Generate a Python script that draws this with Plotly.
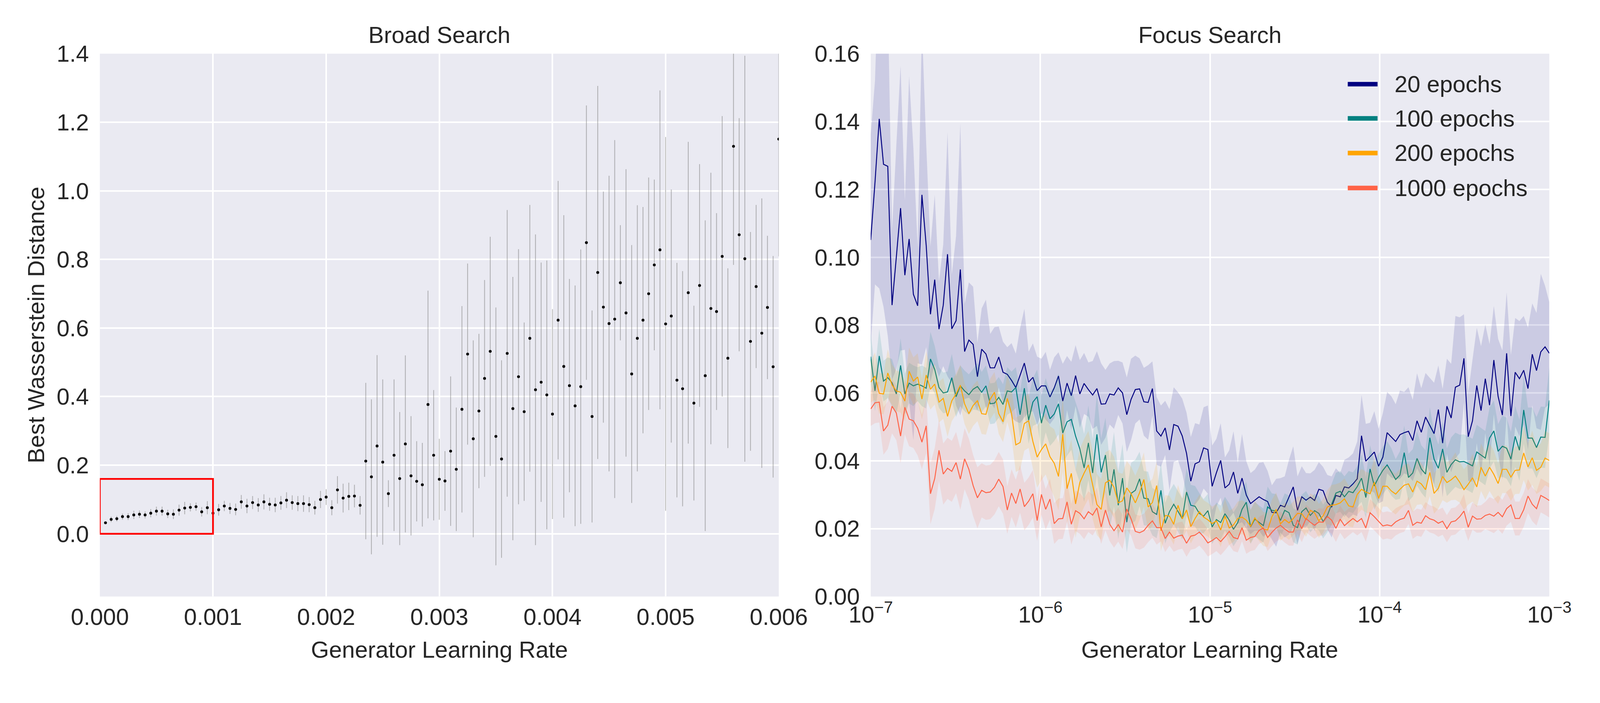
import numpy as np
import plotly.graph_objects as go

# ---- Broad Search (left): mean best distance and spread per learning rate ----
broad_lr = np.arange(1, 121) * 0.00005
broad_mean = [
    0.032, 0.042, 0.044, 0.050, 0.050, 0.055, 0.057, 0.055, 0.060, 0.066,
    0.066, 0.058, 0.057, 0.069, 0.075, 0.077, 0.079, 0.064, 0.076, 0.060,
    0.070, 0.081, 0.074, 0.071, 0.093, 0.081, 0.091, 0.084, 0.093, 0.086,
    0.084, 0.090, 0.098, 0.091, 0.088, 0.088, 0.085, 0.076, 0.100, 0.107,
    0.076, 0.128, 0.104, 0.109, 0.110, 0.083, 0.212, 0.166, 0.256, 0.209,
    0.117, 0.229, 0.161, 0.262, 0.169, 0.153, 0.143, 0.377, 0.229, 0.159,
    0.154, 0.241, 0.188, 0.363, 0.524, 0.277, 0.358, 0.453, 0.532, 0.284,
    0.218, 0.526, 0.365, 0.458, 0.356, 0.570, 0.420, 0.442, 0.405, 0.349,
    0.623, 0.488, 0.432, 0.373, 0.429, 0.849, 0.342, 0.762, 0.661, 0.613,
    0.626, 0.732, 0.644, 0.466, 0.570, 0.623, 0.700, 0.784, 0.828, 0.612,
    0.635, 0.448, 0.423, 0.703, 0.381, 0.724, 0.461, 0.657, 0.648, 0.809,
    0.512, 1.130, 0.872, 0.802, 0.561, 0.721, 0.585, 0.660, 0.487, 1.151,
]
broad_std = [
    0.004, 0.008, 0.008, 0.009, 0.010, 0.012, 0.011, 0.010, 0.012, 0.013,
    0.013, 0.012, 0.014, 0.016, 0.018, 0.012, 0.012, 0.014, 0.019, 0.016,
    0.017, 0.015, 0.016, 0.017, 0.020, 0.021, 0.019, 0.020, 0.022, 0.019,
    0.021, 0.020, 0.023, 0.021, 0.022, 0.024, 0.022, 0.020, 0.025, 0.023,
    0.022, 0.040, 0.042, 0.040, 0.033, 0.027, 0.228, 0.226, 0.265, 0.241,
    0.039, 0.221, 0.194, 0.258, 0.174, 0.117, 0.122, 0.332, 0.190, 0.118,
    0.087, 0.218, 0.180, 0.301, 0.264, 0.287, 0.225, 0.287, 0.334, 0.376,
    0.288, 0.418, 0.384, 0.372, 0.260, 0.389, 0.453, 0.349, 0.392, 0.306,
    0.406, 0.441, 0.311, 0.351, 0.400, 0.400, 0.309, 0.544, 0.337, 0.431,
    0.522, 0.168, 0.419, 0.376, 0.388, 0.330, 0.339, 0.249, 0.465, 0.545,
    0.369, 0.342, 0.343, 0.440, 0.284, 0.354, 0.453, 0.396, 0.287, 0.409,
    0.262, 0.346, 0.340, 0.592, 0.319, 0.238, 0.393, 0.209, 0.323, 0.342,
]

# ---- Focus Search (right): 160 log-spaced learning rates ----
focus_lr = np.logspace(-7, -3, 160)
epochs = ["20 epochs", "100 epochs", "200 epochs", "1000 epochs"]
colors = ["#000080", "#008080", "#FFA500", "#FF6347"]
band_colors = ["rgba(0,0,128,0.13)", "rgba(0,128,128,0.13)",
               "rgba(255,165,0,0.13)", "rgba(255,99,71,0.13)"]

mean_20 = [
    0.1051, 0.1220, 0.1408, 0.1274, 0.1268, 0.0859, 0.1000, 0.1145, 0.0947, 0.1054,
    0.0891, 0.0857, 0.1184, 0.1035, 0.0832, 0.0934, 0.0788, 0.0859, 0.1009, 0.0789,
    0.0813, 0.0964, 0.0722, 0.0756, 0.0743, 0.0648, 0.0729, 0.0715, 0.0674, 0.0674,
    0.0706, 0.0661, 0.0655, 0.0637, 0.0616, 0.0651, 0.0688, 0.0632, 0.0646, 0.0607,
    0.0621, 0.0621, 0.0588, 0.0615, 0.0650, 0.0576, 0.0629, 0.0592, 0.0651, 0.0597,
    0.0628, 0.0610, 0.0594, 0.0613, 0.0567, 0.0568, 0.0597, 0.0594, 0.0615, 0.0600,
    0.0536, 0.0581, 0.0610, 0.0612, 0.0574, 0.0572, 0.0613, 0.0488, 0.0473, 0.0497,
    0.0432, 0.0507, 0.0502, 0.0473, 0.0422, 0.0340, 0.0391, 0.0397, 0.0438, 0.0433,
    0.0325, 0.0365, 0.0401, 0.0320, 0.0331, 0.0367, 0.0304, 0.0349, 0.0299, 0.0274,
    0.0284, 0.0294, 0.0286, 0.0280, 0.0248, 0.0247, 0.0269, 0.0264, 0.0293, 0.0323,
    0.0254, 0.0294, 0.0284, 0.0293, 0.0283, 0.0316, 0.0312, 0.0278, 0.0264, 0.0298,
    0.0294, 0.0323, 0.0320, 0.0332, 0.0347, 0.0474, 0.0399, 0.0412, 0.0426, 0.0384,
    0.0411, 0.0483, 0.0470, 0.0457, 0.0477, 0.0483, 0.0487, 0.0460, 0.0518, 0.0484,
    0.0529, 0.0505, 0.0480, 0.0551, 0.0452, 0.0561, 0.0526, 0.0617, 0.0623, 0.0702,
    0.0471, 0.0518, 0.0622, 0.0548, 0.0642, 0.0564, 0.0697, 0.0590, 0.0535, 0.0717,
    0.0532, 0.0661, 0.0642, 0.0667, 0.0613, 0.0714, 0.0666, 0.0721, 0.0736, 0.0717,
]
std_20 = [
    0.031, 0.030, 0.050, 0.042, 0.050, 0.022, 0.033, 0.042, 0.022, 0.048,
    0.043, 0.017, 0.050, 0.030, 0.020, 0.025, 0.014, 0.018, 0.036, 0.016,
    0.025, 0.043, 0.014, 0.017, 0.017, 0.010, 0.012, 0.016, 0.010, 0.012,
    0.009, 0.009, 0.008, 0.011, 0.010, 0.014, 0.016, 0.009, 0.010, 0.010,
    0.008, 0.010, 0.008, 0.009, 0.007, 0.011, 0.008, 0.010, 0.009, 0.010,
    0.009, 0.008, 0.010, 0.011, 0.012, 0.010, 0.009, 0.010, 0.008, 0.009,
    0.011, 0.012, 0.010, 0.009, 0.010, 0.011, 0.008, 0.010, 0.009, 0.008,
    0.012, 0.011, 0.010, 0.011, 0.012, 0.013, 0.012, 0.011, 0.012, 0.013,
    0.012, 0.010, 0.011, 0.009, 0.010, 0.012, 0.009, 0.013, 0.010, 0.009,
    0.009, 0.010, 0.011, 0.009, 0.008, 0.010, 0.008, 0.009, 0.011, 0.012,
    0.010, 0.009, 0.008, 0.007, 0.009, 0.008, 0.007, 0.008, 0.009, 0.008,
    0.007, 0.008, 0.009, 0.009, 0.011, 0.012, 0.011, 0.010, 0.012, 0.011,
    0.013, 0.012, 0.012, 0.011, 0.013, 0.012, 0.013, 0.012, 0.014, 0.013,
    0.013, 0.014, 0.015, 0.013, 0.016, 0.014, 0.016, 0.021, 0.020, 0.013,
    0.013, 0.018, 0.017, 0.019, 0.016, 0.018, 0.016, 0.017, 0.019, 0.018,
    0.018, 0.016, 0.017, 0.016, 0.018, 0.015, 0.017, 0.023, 0.018, 0.015,
]

mean_100 = [
    0.0707, 0.0606, 0.0709, 0.0635, 0.0645, 0.0630, 0.0597, 0.0681, 0.0597, 0.0629,
    0.0621, 0.0626, 0.0621, 0.0614, 0.0700, 0.0669, 0.0616, 0.0600, 0.0603, 0.0645,
    0.0589, 0.0621, 0.0606, 0.0595, 0.0611, 0.0619, 0.0602, 0.0621, 0.0568, 0.0570,
    0.0587, 0.0566, 0.0606, 0.0603, 0.0616, 0.0536, 0.0614, 0.0520, 0.0573, 0.0589,
    0.0511, 0.0564, 0.0524, 0.0538, 0.0568, 0.0482, 0.0515, 0.0522, 0.0473, 0.0435,
    0.0379, 0.0453, 0.0364, 0.0478, 0.0366, 0.0417, 0.0298, 0.0375, 0.0269, 0.0349,
    0.0219, 0.0304, 0.0313, 0.0347, 0.0290, 0.0288, 0.0250, 0.0242, 0.0313, 0.0216,
    0.0250, 0.0272, 0.0251, 0.0229, 0.0308, 0.0269, 0.0266, 0.0245, 0.0237, 0.0253,
    0.0205, 0.0227, 0.0218, 0.0244, 0.0225, 0.0198, 0.0218, 0.0257, 0.0278, 0.0205,
    0.0228, 0.0218, 0.0209, 0.0264, 0.0254, 0.0252, 0.0224, 0.0254, 0.0247, 0.0210,
    0.0203, 0.0250, 0.0261, 0.0239, 0.0253, 0.0245, 0.0221, 0.0239, 0.0272, 0.0305,
    0.0310, 0.0294, 0.0310, 0.0306, 0.0324, 0.0349, 0.0292, 0.0376, 0.0326, 0.0351,
    0.0372, 0.0388, 0.0367, 0.0345, 0.0358, 0.0424, 0.0351, 0.0364, 0.0407, 0.0376,
    0.0361, 0.0468, 0.0405, 0.0378, 0.0435, 0.0366, 0.0389, 0.0403, 0.0397, 0.0398,
    0.0392, 0.0385, 0.0426, 0.0417, 0.0408, 0.0467, 0.0488, 0.0428, 0.0443, 0.0437,
    0.0405, 0.0472, 0.0431, 0.0550, 0.0467, 0.0467, 0.0439, 0.0470, 0.0469, 0.0578,
]
std_100 = [
    0.007, 0.006, 0.008, 0.006, 0.006, 0.007, 0.006, 0.008, 0.006, 0.006,
    0.006, 0.005, 0.006, 0.006, 0.008, 0.007, 0.006, 0.006, 0.006, 0.007,
    0.006, 0.006, 0.006, 0.006, 0.006, 0.007, 0.006, 0.006, 0.006, 0.006,
    0.006, 0.006, 0.007, 0.006, 0.006, 0.007, 0.007, 0.007, 0.007, 0.008,
    0.008, 0.008, 0.008, 0.008, 0.009, 0.009, 0.010, 0.009, 0.010, 0.010,
    0.010, 0.011, 0.010, 0.012, 0.010, 0.011, 0.010, 0.011, 0.010, 0.010,
    0.009, 0.009, 0.009, 0.008, 0.008, 0.008, 0.007, 0.007, 0.008, 0.006,
    0.006, 0.006, 0.006, 0.006, 0.007, 0.006, 0.006, 0.006, 0.005, 0.005,
    0.005, 0.005, 0.005, 0.005, 0.005, 0.005, 0.005, 0.006, 0.006, 0.005,
    0.005, 0.005, 0.005, 0.006, 0.005, 0.005, 0.005, 0.005, 0.005, 0.005,
    0.005, 0.005, 0.005, 0.005, 0.005, 0.005, 0.005, 0.005, 0.006, 0.006,
    0.006, 0.006, 0.006, 0.006, 0.006, 0.007, 0.006, 0.007, 0.007, 0.007,
    0.007, 0.007, 0.007, 0.006, 0.007, 0.008, 0.007, 0.007, 0.008, 0.007,
    0.007, 0.009, 0.008, 0.007, 0.008, 0.007, 0.008, 0.008, 0.008, 0.008,
    0.008, 0.008, 0.008, 0.008, 0.008, 0.009, 0.009, 0.008, 0.009, 0.009,
    0.008, 0.009, 0.009, 0.010, 0.009, 0.009, 0.009, 0.009, 0.009, 0.010,
]

mean_200 = [
    0.0632, 0.0650, 0.0599, 0.0597, 0.0659, 0.0624, 0.0606, 0.0602, 0.0576, 0.0664,
    0.0635, 0.0647, 0.0582, 0.0653, 0.0611, 0.0626, 0.0573, 0.0584, 0.0531, 0.0577,
    0.0597, 0.0623, 0.0568, 0.0539, 0.0563, 0.0577, 0.0539, 0.0537, 0.0582, 0.0602,
    0.0539, 0.0515, 0.0584, 0.0539, 0.0447, 0.0454, 0.0510, 0.0518, 0.0457, 0.0411,
    0.0433, 0.0450, 0.0412, 0.0393, 0.0354, 0.0478, 0.0318, 0.0363, 0.0273, 0.0336,
    0.0364, 0.0388, 0.0329, 0.0271, 0.0257, 0.0335, 0.0343, 0.0322, 0.0276, 0.0282,
    0.0320, 0.0303, 0.0276, 0.0306, 0.0345, 0.0264, 0.0277, 0.0327, 0.0194, 0.0239,
    0.0237, 0.0213, 0.0269, 0.0229, 0.0255, 0.0206, 0.0230, 0.0250, 0.0234, 0.0226,
    0.0215, 0.0223, 0.0196, 0.0237, 0.0202, 0.0211, 0.0230, 0.0234, 0.0225, 0.0207,
    0.0232, 0.0214, 0.0199, 0.0196, 0.0235, 0.0257, 0.0214, 0.0227, 0.0217, 0.0230,
    0.0245, 0.0244, 0.0226, 0.0254, 0.0247, 0.0223, 0.0238, 0.0264, 0.0269, 0.0271,
    0.0276, 0.0288, 0.0267, 0.0264, 0.0301, 0.0316, 0.0308, 0.0303, 0.0337, 0.0289,
    0.0325, 0.0325, 0.0311, 0.0302, 0.0316, 0.0328, 0.0332, 0.0308, 0.0340, 0.0332,
    0.0315, 0.0366, 0.0304, 0.0319, 0.0354, 0.0336, 0.0344, 0.0355, 0.0337, 0.0315,
    0.0331, 0.0350, 0.0323, 0.0381, 0.0355, 0.0381, 0.0360, 0.0333, 0.0375, 0.0375,
    0.0352, 0.0372, 0.0373, 0.0423, 0.0382, 0.0409, 0.0372, 0.0381, 0.0408, 0.0401,
]
std_200 = [
    0.006, 0.007, 0.006, 0.006, 0.007, 0.006, 0.006, 0.006, 0.006, 0.007,
    0.007, 0.007, 0.006, 0.007, 0.006, 0.006, 0.006, 0.006, 0.006, 0.006,
    0.006, 0.006, 0.006, 0.006, 0.006, 0.006, 0.006, 0.006, 0.006, 0.006,
    0.006, 0.006, 0.007, 0.007, 0.008, 0.008, 0.008, 0.008, 0.008, 0.009,
    0.009, 0.009, 0.009, 0.010, 0.010, 0.011, 0.010, 0.010, 0.010, 0.010,
    0.010, 0.010, 0.010, 0.009, 0.009, 0.009, 0.009, 0.009, 0.009, 0.008,
    0.008, 0.008, 0.008, 0.008, 0.008, 0.007, 0.007, 0.007, 0.006, 0.006,
    0.006, 0.006, 0.006, 0.006, 0.006, 0.005, 0.005, 0.005, 0.005, 0.005,
    0.005, 0.005, 0.005, 0.005, 0.005, 0.005, 0.005, 0.005, 0.005, 0.005,
    0.005, 0.005, 0.005, 0.005, 0.005, 0.005, 0.005, 0.005, 0.005, 0.005,
    0.005, 0.005, 0.005, 0.005, 0.005, 0.005, 0.005, 0.005, 0.006, 0.006,
    0.006, 0.006, 0.006, 0.006, 0.006, 0.006, 0.006, 0.006, 0.007, 0.006,
    0.006, 0.006, 0.006, 0.006, 0.006, 0.006, 0.006, 0.006, 0.007, 0.006,
    0.006, 0.007, 0.006, 0.006, 0.007, 0.006, 0.006, 0.007, 0.006, 0.006,
    0.006, 0.007, 0.006, 0.007, 0.007, 0.007, 0.007, 0.006, 0.007, 0.007,
    0.007, 0.007, 0.007, 0.008, 0.007, 0.008, 0.007, 0.007, 0.008, 0.008,
]

mean_1000 = [
    0.0553, 0.0571, 0.0573, 0.0488, 0.0505, 0.0561, 0.0541, 0.0473, 0.0558, 0.0523,
    0.0518, 0.0496, 0.0455, 0.0503, 0.0303, 0.0348, 0.0431, 0.0361, 0.0378, 0.0369,
    0.0395, 0.0346, 0.0406, 0.0375, 0.0327, 0.0291, 0.0313, 0.0306, 0.0308, 0.0322,
    0.0346, 0.0324, 0.0255, 0.0305, 0.0274, 0.0317, 0.0265, 0.0281, 0.0303, 0.0224,
    0.0301, 0.0257, 0.0287, 0.0215, 0.0229, 0.0230, 0.0279, 0.0213, 0.0253, 0.0245,
    0.0229, 0.0250, 0.0240, 0.0261, 0.0205, 0.0255, 0.0213, 0.0194, 0.0212, 0.0190,
    0.0258, 0.0229, 0.0192, 0.0188, 0.0194, 0.0210, 0.0223, 0.0203, 0.0203, 0.0171,
    0.0190, 0.0172, 0.0178, 0.0181, 0.0157, 0.0178, 0.0181, 0.0190, 0.0176, 0.0158,
    0.0165, 0.0174, 0.0162, 0.0176, 0.0192, 0.0174, 0.0170, 0.0203, 0.0166, 0.0174,
    0.0177, 0.0195, 0.0202, 0.0174, 0.0189, 0.0202, 0.0210, 0.0199, 0.0190, 0.0190,
    0.0226, 0.0200, 0.0230, 0.0219, 0.0210, 0.0220, 0.0219, 0.0236, 0.0225, 0.0201,
    0.0228, 0.0209, 0.0220, 0.0230, 0.0220, 0.0230, 0.0202, 0.0247, 0.0235, 0.0222,
    0.0208, 0.0211, 0.0208, 0.0220, 0.0227, 0.0231, 0.0254, 0.0210, 0.0219, 0.0216,
    0.0238, 0.0229, 0.0225, 0.0216, 0.0222, 0.0200, 0.0220, 0.0223, 0.0235, 0.0252,
    0.0204, 0.0237, 0.0228, 0.0229, 0.0239, 0.0243, 0.0237, 0.0248, 0.0235, 0.0259,
    0.0270, 0.0230, 0.0230, 0.0256, 0.0296, 0.0272, 0.0259, 0.0298, 0.0291, 0.0283,
]
std_1000 = [
    0.005, 0.006, 0.006, 0.007, 0.007, 0.008, 0.008, 0.008, 0.008, 0.008,
    0.008, 0.008, 0.008, 0.008, 0.009, 0.009, 0.009, 0.009, 0.009, 0.009,
    0.009, 0.009, 0.009, 0.009, 0.009, 0.009, 0.008, 0.008, 0.008, 0.008,
    0.008, 0.008, 0.007, 0.007, 0.007, 0.007, 0.007, 0.007, 0.007, 0.006,
    0.006, 0.006, 0.006, 0.006, 0.006, 0.006, 0.006, 0.006, 0.006, 0.006,
    0.006, 0.006, 0.006, 0.006, 0.005, 0.006, 0.005, 0.005, 0.005, 0.005,
    0.006, 0.005, 0.005, 0.005, 0.005, 0.005, 0.005, 0.005, 0.004, 0.004,
    0.004, 0.004, 0.004, 0.004, 0.004, 0.004, 0.004, 0.004, 0.004, 0.004,
    0.004, 0.004, 0.004, 0.004, 0.004, 0.004, 0.004, 0.004, 0.004, 0.004,
    0.004, 0.004, 0.004, 0.004, 0.004, 0.004, 0.004, 0.004, 0.004, 0.004,
    0.004, 0.004, 0.004, 0.004, 0.004, 0.004, 0.004, 0.004, 0.004, 0.004,
    0.004, 0.004, 0.004, 0.004, 0.004, 0.004, 0.004, 0.004, 0.004, 0.004,
    0.004, 0.004, 0.004, 0.004, 0.004, 0.004, 0.004, 0.004, 0.004, 0.004,
    0.004, 0.004, 0.004, 0.004, 0.004, 0.004, 0.004, 0.004, 0.004, 0.005,
    0.004, 0.004, 0.004, 0.004, 0.004, 0.005, 0.005, 0.005, 0.005, 0.005,
    0.005, 0.005, 0.005, 0.005, 0.005, 0.005, 0.005, 0.005, 0.005, 0.005,
]

focus_means = [mean_20, mean_100, mean_200, mean_1000]
focus_stds = [std_20, std_100, std_200, std_1000]

# the page is photographed a little enlarged, so sizes are given in page px
K = 1 / 1.0254
FONT = "Liberation Sans, Arial, sans-serif"
FS = 61 * K
TXT = "#262626"
BG = "#EAEAF2"

fig = go.Figure()

# left panel
fig.add_trace(go.Scatter(
    x=broad_lr, y=broad_mean, mode="markers",
    marker=dict(color="black", size=7.5 * K),
    error_y=dict(type="data", array=broad_std, visible=True,
                 color="rgba(128,128,128,0.55)", thickness=2.2 * K, width=0),
    xaxis="x", yaxis="y", showlegend=False,
))

# right panel: bands then mean lines
for name, col, bcol, m, s in zip(epochs, colors, band_colors, focus_means, focus_stds):
    m = np.array(m)
    s = np.array(s)
    fig.add_trace(go.Scatter(x=focus_lr, y=m + s, mode="lines", line=dict(width=0),
                             xaxis="x2", yaxis="y2", showlegend=False, hoverinfo="skip"))
    fig.add_trace(go.Scatter(x=focus_lr, y=m - s, mode="lines", line=dict(width=0),
                             fill="tonexty", fillcolor=bcol,
                             xaxis="x2", yaxis="y2", showlegend=False, hoverinfo="skip"))
    fig.add_trace(go.Scatter(x=focus_lr, y=m, mode="lines", name=name,
                             line=dict(color=col, width=2.5 * K),
                             xaxis="x2", yaxis="y2", showlegend=False))

axis_common = dict(
    showgrid=True, gridcolor="white", gridwidth=4 * K, zeroline=False,
    showline=False, ticks="", automargin=False,
    tickfont=dict(family=FONT, size=FS, color=TXT),
)
y_dom = [0.1258, 0.9255]

fig.update_layout(
    template="none",
    width=4079, height=1738,
    margin=dict(l=0, r=0, t=0, b=0, pad=0, autoexpand=False),
    paper_bgcolor="white", plot_bgcolor=BG,
    font=dict(family=FONT, size=FS, color=TXT),
    showlegend=False,
    xaxis=dict(domain=[0.0607, 0.4868], range=[0, 0.006],
               tickvals=[0, 0.001, 0.002, 0.003, 0.004, 0.005, 0.006],
               tickformat=".3f", anchor="y", ticklabelstandoff=12, **axis_common),
    yaxis=dict(domain=y_dom, range=[-0.183, 1.4],
               tickvals=[0, 0.2, 0.4, 0.6, 0.8, 1.0, 1.2, 1.4],
               tickformat=".1f", anchor="x", ticklabelstandoff=27, **axis_common),
    xaxis2=dict(domain=[0.5445, 0.9704], type="log", range=[-7, -3],
                tickvals=[1e-7, 1e-6, 1e-5, 1e-4, 1e-3],
                ticktext=["10<sup>\u22127</sup>", "10<sup>\u22126</sup>", "10<sup>\u22125</sup>",
                          "10<sup>\u22124</sup>", "10<sup>\u22123</sup>"],
                anchor="y2", ticklabelstandoff=6, **axis_common),
    yaxis2=dict(domain=y_dom, range=[0, 0.16],
                tickvals=[0, 0.02, 0.04, 0.06, 0.08, 0.10, 0.12, 0.14, 0.16],
                tickformat=".2f", anchor="x2", ticklabelstandoff=27, **axis_common),
)

# zoomed-region marker on the broad search
fig.add_shape(type="rect", xref="x", yref="y", x0=0, x1=0.001, y0=0, y1=0.16,
              line=dict(color="red", width=4.5 * K), layer="above")

# titles and axis labels
notes = [
    dict(x=0.2738, y=0.9529, text="Broad Search"),
    dict(x=0.7574, y=0.9529, text="Focus Search"),
    dict(x=0.2738, y=0.0476, text="Generator Learning Rate"),
    dict(x=0.7574, y=0.0476, text="Generator Learning Rate"),
]
for n in notes:
    fig.add_annotation(xref="paper", yref="paper", showarrow=False,
                       xanchor="center", yanchor="middle",
                       font=dict(family=FONT, size=FS, color=TXT), **n)
fig.add_annotation(xref="paper", yref="paper", x=0.0206, y=0.5258, showarrow=False,
                   xanchor="center", yanchor="middle",
                   text="Best Wasserstein Distance", textangle=-90,
                   font=dict(family=FONT, size=FS, color=TXT))

# legend drawn by hand so the swatches are as long and thick as the original
leg_y = [0.8806, 0.8302, 0.7791, 0.7276]
for name, col, ly in zip(epochs, colors, leg_y):
    fig.add_shape(type="line", xref="paper", yref="paper", x0=0.8439, x1=0.8626,
                  y0=ly, y1=ly, line=dict(color=col, width=12 * K))
    fig.add_annotation(xref="paper", yref="paper", x=0.8728, y=ly,
                       xanchor="left", yanchor="middle",
                       showarrow=False, text=name,
                       font=dict(family=FONT, size=FS, color=TXT))

fig.write_html("out.html")
